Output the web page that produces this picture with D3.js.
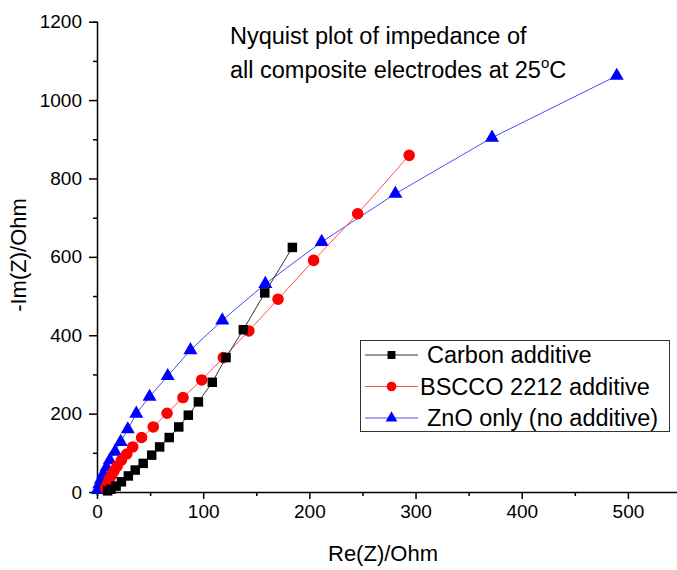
<!DOCTYPE html>
<html>
<head>
<meta charset="utf-8">
<script src="https://cdn.jsdelivr.net/npm/d3@7"></script>
<style>
  body { margin: 0; background: #fff; }
  svg { font-family: Arial, "Liberation Sans", sans-serif; }
</style>
</head>
<body>
<div class="canva"></div>
<script>
// data
const carbonRe = [10, 13, 18, 23, 29.5, 36, 43.5, 51.5, 59, 68, 77, 86, 95.5, 108.6, 121.5, 137.8, 158, 184];
const carbonIm = [3, 7, 15, 26, 41, 56, 73, 94, 115, 139, 166, 196, 230, 280, 343, 414, 508, 624];

const bsccoRe = [8, 9.7, 11.6, 13.8, 16, 19, 23, 28, 33.6, 42, 53, 66, 81, 98.6, 119, 143, 170.5, 204, 245.5, 294];
const bsccoIm = [10, 20, 32, 43, 54, 66, 81, 97, 115, 139, 166, 201, 241, 286, 343, 411, 492, 591, 710, 859];

const znoRe = [1, 1.5, 2.2, 3.8, 6, 9, 12, 17, 22.3, 29, 37, 49.5, 66.6, 88, 118, 158.5, 211.6, 281, 372, 489.5];
const znoIm = [5, 10, 20, 32, 46, 63, 81, 103, 128, 160, 200, 243, 296, 362, 438, 531, 638, 761, 904, 1062];

const seriesNames = ["Carbon additive", "BSCCO 2212 additive", "ZnO only (no additive)"];
const xTicks = [0, 100, 200, 300, 400, 500];
const yTicks = [0, 200, 400, 600, 800, 1000, 1200];

const svg = d3.select(".canva").append("svg")
    .attr("width", 677)
    .attr("height", 570);

const x = d3.scaleLinear().domain([0, 550]).range([97, 681]);
const y = d3.scaleLinear().domain([0, 1200]).range([492, 21.7]);

// axes (minor ticks first, then labelled major ticks)
const xAxis = svg.append("g").attr("transform", "translate(0,492)");
xAxis.call(d3.axisBottom(x).tickValues(d3.range(0, 551, 50)).tickSize(4).tickFormat(""));
xAxis.call(g => g.selectAll(".tick").filter(d => d % 100 === 0).select("line").attr("y2", 7));
svg.append("g").attr("transform", "translate(0,492)")
    .call(d3.axisBottom(x).tickValues(xTicks).tickSize(0).tickPadding(13).tickFormat(d3.format("d")))
    .call(g => g.select(".domain").remove());

const yAxis = svg.append("g").attr("transform", "translate(97,0)");
yAxis.call(d3.axisLeft(y).tickValues(d3.range(0, 1201, 100)).tickSize(4).tickFormat(""));
yAxis.call(g => g.selectAll(".tick").filter(d => d % 200 === 0).select("line").attr("x2", -8));
svg.append("g").attr("transform", "translate(97,0)")
    .call(d3.axisLeft(y).tickValues(yTicks).tickSize(0).tickPadding(15).tickFormat(d3.format("d")))
    .call(g => g.select(".domain").remove());

svg.selectAll(".domain").attr("stroke", "#000").attr("stroke-width", 1.5);
svg.selectAll(".tick line").attr("stroke", "#000").attr("stroke-width", 1.5);
svg.selectAll(".tick text").attr("font-size", 19).attr("fill", "#000").attr("font-family", "Arial, 'Liberation Sans', sans-serif");

// axis titles
svg.append("text")
    .attr("x", 383).attr("y", 561)
    .attr("text-anchor", "middle")
    .attr("font-size", 22)
    .text("Re(Z)/Ohm");
svg.append("text")
    .attr("transform", "translate(26,255) rotate(-90)")
    .attr("text-anchor", "middle")
    .attr("font-size", 22)
    .text("-Im(Z)/Ohm");

// title
svg.append("text").attr("x", 230).attr("y", 44).attr("font-size", 23.5).text("Nyquist plot of impedance of");
const t2 = svg.append("text").attr("x", 230).attr("y", 78).attr("font-size", 23.5);
t2.append("tspan").text("all composite electrodes at 25");
t2.append("tspan").attr("font-size", 15).attr("dy", -10).text("o");
t2.append("tspan").attr("dy", 10).text("C");

const series = [
    {name: seriesNames[0], re: carbonRe, im: carbonIm, line: "#333", fill: "#000", shape: d3.symbolSquare, size: 90},
    {name: seriesNames[1], re: bsccoRe, im: bsccoIm, line: "#ff5050", fill: "#ff0000", shape: d3.symbolCircle, size: 105},
    {name: seriesNames[2], re: znoRe, im: znoIm, line: "#4d4dff", fill: "#0000ff", shape: d3.symbolTriangle, size: 85}
];

const line = d3.line().x(d => x(d[0])).y(d => y(d[1]));

// draw from last to first so carbon sits on top
series.slice().reverse().forEach(s => {
    const pts = s.re.map((v, i) => [v, s.im[i]]);
    svg.append("path")
        .datum(pts)
        .attr("fill", "none")
        .attr("stroke", s.line)
        .attr("stroke-width", 1)
        .attr("d", line);
    svg.append("g").selectAll("path")
        .data(pts)
        .join("path")
        .attr("transform", d => `translate(${x(d[0])},${y(d[1])})`)
        .attr("d", d3.symbol(s.shape, s.size))
        .attr("fill", s.fill);
});

// legend
const legend = svg.append("g");
legend.append("rect")
    .attr("x", 360.5).attr("y", 340.5)
    .attr("width", 309).attr("height", 91)
    .attr("fill", "#fff").attr("stroke", "#333").attr("stroke-width", 1);
series.forEach((s, i) => {
    const cy = 355 + i * 31.5;
    legend.append("line")
        .attr("x1", 365).attr("x2", 418)
        .attr("y1", cy).attr("y2", cy)
        .attr("stroke", s.line).attr("stroke-width", 1);
    legend.append("path")
        .attr("transform", `translate(391.5,${cy})`)
        .attr("d", d3.symbol(s.shape, s.size * 0.7))
        .attr("fill", s.fill);
    legend.append("text")
        .attr("x", i === 1 ? 420 : 427).attr("y", cy + 8)
        .attr("font-size", 23.5)
        .text(s.name);
});
</script>
</body>
</html>
